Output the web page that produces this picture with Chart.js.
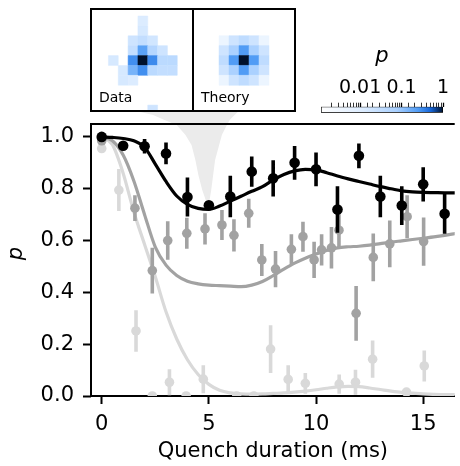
<!DOCTYPE html>
<html>
<head>
<meta charset="utf-8">
<script src="https://cdn.jsdelivr.net/npm/chart.js@4.4.0/dist/chart.umd.min.js"></script>
<style>
body{margin:0;background:#fff;}
#wrap{position:relative;width:460px;height:466px;overflow:hidden;font-family:'DejaVu Sans';}
#main{position:absolute;left:0;top:0;}
.box{position:absolute;top:8px;width:104px;height:104px;box-sizing:border-box;border:2px solid #000;background:#fff;}
.box canvas{position:absolute;left:0;top:0;}
.lbl{position:absolute;left:7px;top:79px;font-size:14px;color:#000;}
#cbar{position:absolute;left:300px;top:40px;}
</style>
</head>
<body>
<div id="wrap">
  <canvas id="main" width="460" height="466"></canvas>
  <div class="box" style="left:90px"><canvas id="hmData" width="100" height="100"></canvas><div class="lbl">Data</div></div>
  <div class="box" style="left:192px"><canvas id="hmTheory" width="100" height="100"></canvas><div class="lbl">Theory</div></div>
  <canvas id="cbar" width="160" height="80"></canvas>
</div>
<script>
// measured points (quench duration in ms, p)
var blackX = [0,1,2,3,4,5,6,7,8,9,10,11,12,13,14,15,16];
var blackY = [1.0,0.966,0.964,0.936,0.768,0.736,0.77,0.866,0.84,0.90,0.875,0.72,0.927,0.77,0.735,0.817,0.703];
var blackErr = [0.005,0.016,0.028,0.042,0.075,0.012,0.08,0.058,0.07,0.065,0.065,0.09,0.048,0.08,0.075,0.066,0.077];

var grayX = [0,1.55,2.36,3.08,3.97,4.82,5.61,6.17,6.86,7.47,8.11,8.85,9.39,9.91,10.26,10.72,11.07,11.87,12.67,13.44,14.25,15.02];
var grayY = [0.985,0.725,0.484,0.60,0.628,0.645,0.66,0.62,0.705,0.525,0.49,0.566,0.615,0.525,0.564,0.572,0.64,0.319,0.535,0.587,0.692,0.596];
var grayErr = [0.01,0.05,0.088,0.074,0.06,0.06,0.058,0.062,0.056,0.062,0.07,0.058,0.058,0.07,0.06,0.08,0.07,0.106,0.092,0.09,0.083,0.093];

var lightX = [0,0.8,1.6,2.36,3.16,3.94,4.74,6.3,7.1,7.88,8.7,9.5,11.08,11.84,12.64,14.22,15.05];
var lightY = [0.955,0.795,0.251,0.0,0.053,0.0,0.065,0.0,0.0,0.181,0.064,0.049,0.046,0.053,0.142,0.015,0.116];
var lightErr = [0.01,0.081,0.08,0.01,0.05,0.01,0.054,0.01,0.01,0.092,0.055,0.04,0.037,0.048,0.072,0.01,0.06];

// theory curves
var curveX = [0,0.5,1,1.5,2,2.5,3,3.5,4,4.5,5,5.5,6,6.5,7,7.5,8,8.5,9,9.5,10,10.5,11,11.5,12,12.5,13,13.5,14,14.5,15,15.5,16,16.5];
var blackCurve = [1.0,0.998,0.994,0.985,0.96,0.895,0.828,0.772,0.74,0.724,0.72,0.733,0.752,0.771,0.79,0.808,0.834,0.855,0.869,0.875,0.873,0.862,0.849,0.838,0.828,0.818,0.808,0.8,0.792,0.788,0.786,0.785,0.784,0.784];
var grayCurve = [1.0,0.985,0.93,0.83,0.70,0.575,0.505,0.465,0.443,0.433,0.428,0.426,0.424,0.422,0.428,0.442,0.465,0.49,0.513,0.532,0.548,0.562,0.572,0.576,0.578,0.582,0.588,0.594,0.599,0.604,0.609,0.614,0.62,0.627];
var lightCurve = [1.0,0.97,0.86,0.71,0.585,0.46,0.325,0.22,0.14,0.083,0.045,0.022,0.012,0.008,0.007,0.008,0.01,0.012,0.015,0.019,0.024,0.03,0.035,0.037,0.036,0.031,0.025,0.019,0.014,0.011,0.008,0.006,0.005,0.005];

// zoom wedge from the inset down to the 5 ms point
var wedgeX = [1.6,2.4,2.9,3.5,3.9,4.19,4.37,4.51,4.69,4.88,5.0,5.11,5.2,5.29,5.48,5.61,5.84,5.98,6.2,6.4,1.6];
var wedgeY = [1.10,1.085,1.066,1.046,1.008,0.969,0.911,0.853,0.795,0.75,0.74,0.795,0.853,0.911,0.969,1.008,1.046,1.066,1.085,1.10,1.10];

// inset images (rows top to bottom, p per pixel)
var dataGrid = [
  [0,0,0,0,0,0,0,0,0,0,0],
  [0,0,0,0,0,0.012,0,0,0,0,0],
  [0,0,0,0,0,0.015,0,0,0,0,0],
  [0,0,0,0,0.02,0.03,0.018,0,0,0,0],
  [0,0,0,0,0.03,0.22,0.05,0.02,0,0,0],
  [0,0,0.015,0,0.3,1.0,0.32,0.04,0.04,0,0],
  [0,0,0,0.015,0.15,0.3,0.04,0.03,0.03,0,0],
  [0,0,0,0.015,0.012,0,0,0,0,0,0],
  [0,0,0,0,0,0,0,0,0,0,0],
  [0,0,0,0,0,0,0,0,0,0,0],
  [0,0,0,0,0,0,0.02,0,0,0,0]
];
var theoryGrid = [
  [0,0,0,0,0,0,0,0,0,0,0],
  [0,0,0,0,0,0,0,0,0,0,0],
  [0,0,0,0,0,0,0,0,0,0,0],
  [0,0,0,0.004,0.02,0.035,0.02,0.004,0,0,0],
  [0,0,0,0.02,0.07,0.25,0.07,0.02,0,0,0],
  [0,0,0,0.035,0.25,1.0,0.25,0.035,0,0,0],
  [0,0,0,0.02,0.07,0.25,0.07,0.02,0,0,0],
  [0,0,0,0.004,0.02,0.035,0.02,0.004,0,0,0],
  [0,0,0,0,0,0,0,0,0,0,0],
  [0,0,0,0,0,0,0,0,0,0,0],
  [0,0,0,0,0,0,0,0,0,0,0]
];

var cbarMin = 0.00114;
var cbarLabelVals = [0.01, 0.1, 1];
var cbarLabels = ['0.01', '0.1', '1'];
var cmapPos = [0, 0.35, 0.62, 0.8, 0.9, 1];
var cmapCol = [[255,255,255],[220,236,255],[169,208,255],[79,155,245],[21,101,216],[0,17,43]];

var FONT = 'DejaVu Sans';
Chart.defaults.color = '#000';
Chart.defaults.font.family = FONT;

function cmap(p){
    var lo = Math.log10(cbarMin);
    var t = (Math.log10(p) - lo) / (0 - lo);
    t = Math.max(0, Math.min(1, t));
    for(var i=1;i<cmapPos.length;i++){
        if(t <= cmapPos[i]){
            var f = (t - cmapPos[i-1]) / (cmapPos[i] - cmapPos[i-1]);
            var a = cmapCol[i-1], b = cmapCol[i];
            return 'rgb(' + Math.round(a[0]+(b[0]-a[0])*f) + ',' + Math.round(a[1]+(b[1]-a[1])*f) + ',' + Math.round(a[2]+(b[2]-a[2])*f) + ')';
        }
    }
    return 'rgb(0,17,43)';
}

function pts(xs, ys){
    var out = [];
    for(var i=0;i<xs.length;i++) out.push({x: xs[i], y: ys[i]});
    return out;
}
function errbars(xs, ys, es){
    var out = [];
    for(var i=0;i<xs.length;i++){
        out.push({x: xs[i], y: ys[i]-es[i]});
        out.push({x: xs[i], y: ys[i]+es[i]});
        out.push({x: xs[i], y: null});
    }
    return out;
}

var BLACK = '#000000', GRAY = '#a2a2a2', LIGHT = '#d9d9d9';
var YTOP = 1.05;   // top of the plot frame

function series(xs, ys, es, cx, cy, col, r, ord){
    return [
        {data: pts(cx, cy), showLine: true, borderColor: col, borderWidth: 3.2, pointRadius: 0,
         cubicInterpolationMode: 'monotone', clip: 0, order: ord},
        {data: errbars(xs, ys, es), showLine: true, spanGaps: false, borderColor: col, borderWidth: 3.6,
         borderCapStyle: 'butt', pointRadius: 0, clip: 0, order: ord},
        {data: pts(xs, ys), showLine: false, pointRadius: r, pointBackgroundColor: col, pointBorderWidth: 0,
         clip: 0, order: ord}
    ];
}

var mainSets = [].concat(
    series(blackX, blackY, blackErr, curveX, blackCurve, BLACK, 5.3, 1),
    series(grayX, grayY, grayErr, curveX, grayCurve, GRAY, 4.8, 2),
    series(lightX, lightY, lightErr, curveX, lightCurve, LIGHT, 4.8, 3),
    [{data: pts(wedgeX, wedgeY), showLine: true, fill: 'shape', backgroundColor: '#ebebeb',
      borderWidth: 0, pointRadius: 0, clip: false, order: 9}]
);

// left and top spines of the plot frame, at p = 0 .. YTOP
var frame = {
    id: 'frame',
    afterDatasetsDraw: function(chart){
        var a = chart.chartArea, c = chart.ctx;
        var yt = chart.scales.y.getPixelForValue(YTOP);
        var yb = chart.scales.y.getPixelForValue(0);
        c.save();
        c.strokeStyle = '#000';
        c.lineWidth = 2;
        c.beginPath();
        c.moveTo(a.right, yt);
        c.lineTo(a.left, yt);
        c.lineTo(a.left, yb);
        c.stroke();
        c.restore();
    }
};

new Chart(document.getElementById('main'), {
    type: 'scatter',
    data: {datasets: mainSets},
    options: {
        responsive: false,
        animation: false,
        events: [],
        layout: {padding: {top: 111, left: 0, right: 0, bottom: 0}},
        plugins: {legend: {display: false}, tooltip: {enabled: false}},
        scales: {
            x: {
                type: 'linear', min: -0.5, max: 16.47,
                afterFit: function(s){ s.height = 70; },
                border: {display: true, color: '#000', width: 2},
                grid: {drawOnChartArea: false, drawTicks: true, tickLength: 8, tickWidth: 2, tickColor: '#000'},
                ticks: {stepSize: 5, includeBounds: false, padding: 8, font: {size: 21}, maxRotation: 0},
                title: {display: true, text: 'Quench duration (ms)', font: {size: 21}, padding: {top: 0, bottom: 2}}
            },
            y: {
                type: 'linear', min: 0, max: 1.1,
                afterFit: function(s){ s.width = 91; },
                border: {display: false},
                grid: {drawOnChartArea: false, drawTicks: true, tickLength: 8, tickWidth: 2, tickColor: '#000'},
                ticks: {stepSize: 0.2, includeBounds: false, padding: 9, font: {size: 21},
                        callback: function(v){ return v.toFixed(1); }},
                title: {display: true, text: 'p', font: {size: 21, style: 'italic'}, padding: {top: 4, bottom: 0}}
            }
        }
    },
    plugins: [frame]
});

// cell (c, r) is centred on integer c, r; xmin/ymin give the visible crop
function heatmap(id, grid, xmin, ymin){
    var cells = [], cols = [];
    for(var r=0;r<grid.length;r++){
        for(var c=0;c<grid[r].length;c++){
            if(grid[r][c] > 0){
                cells.push({x: c, y: r});
                cols.push(cmap(grid[r][c]));
            }
        }
    }
    new Chart(document.getElementById(id), {
        type: 'scatter',
        data: {datasets: [{data: cells, pointStyle: 'rect', pointBackgroundColor: cols,
                           pointBorderColor: cols, pointBorderWidth: 0.5,
                           pointRadius: function(ctx){
                               var s = ctx.chart.scales.x;
                               return (s.getPixelForValue(1) - s.getPixelForValue(0)) / Math.SQRT2;
                           }}]},
        options: {
            responsive: false, animation: false, events: [],
            layout: {padding: 0},
            plugins: {legend: {display: false}, tooltip: {enabled: false}},
            scales: {
                x: {type: 'linear', min: xmin, max: 10, display: false},
                y: {type: 'linear', min: ymin, max: 10, reverse: true, display: false}
            }
        }
    });
}
heatmap('hmData', dataGrid, -0.17, -0.1);
heatmap('hmTheory', theoryGrid, 0, -0.1);

function isLabel(v){
    for(var i=0;i<cbarLabelVals.length;i++){
        if(Math.abs(v - cbarLabelVals[i]) < cbarLabelVals[i]*1e-6) return i;
    }
    return -1;
}

new Chart(document.getElementById('cbar'), {
    type: 'bar',
    data: {labels: ['p'], datasets: [{
        data: [[cbarMin, 1]],
        backgroundColor: function(ctx){
            var a = ctx.chart.chartArea;
            if(!a) return '#fff';
            var g = ctx.chart.ctx.createLinearGradient(a.left, 0, a.right, 0);
            for(var i=0;i<cmapPos.length;i++){
                var c = cmapCol[i];
                g.addColorStop(cmapPos[i], 'rgb(' + c[0] + ',' + c[1] + ',' + c[2] + ')');
            }
            return g;
        },
        borderColor: '#000', borderWidth: 1, borderSkipped: false,
        barPercentage: 1, categoryPercentage: 1
    }]},
    options: {
        indexAxis: 'y',
        responsive: false, animation: false, events: [],
        layout: {padding: {left: 21, right: 17, top: 0, bottom: 7.3}},
        plugins: {legend: {display: false}, tooltip: {enabled: false}},
        scales: {
            x: {
                type: 'logarithmic', position: 'top', min: cbarMin, max: 1,
                afterFit: function(s){ s.height = 66.7; },
                afterBuildTicks: function(s){
                    s.ticks = s.ticks.filter(function(t){ return t.value >= 0.0015; });
                },
                border: {display: false},
                grid: {drawOnChartArea: false, drawTicks: true, tickLength: 4, tickColor: '#000',
                       tickWidth: function(ctx){ return ctx.tick && isLabel(ctx.tick.value) >= 0 ? 1.3 : 0.8; }},
                ticks: {autoSkip: false, maxRotation: 0, padding: 3, font: {size: 19},
                        callback: function(v){ var i = isLabel(v); return i >= 0 ? cbarLabels[i] : ''; }},
                title: {display: true, text: 'p', font: {size: 21, style: 'italic'}, padding: {top: 4, bottom: 0}}
            },
            y: {display: false}
        }
    }
});
</script>
</body>
</html>
